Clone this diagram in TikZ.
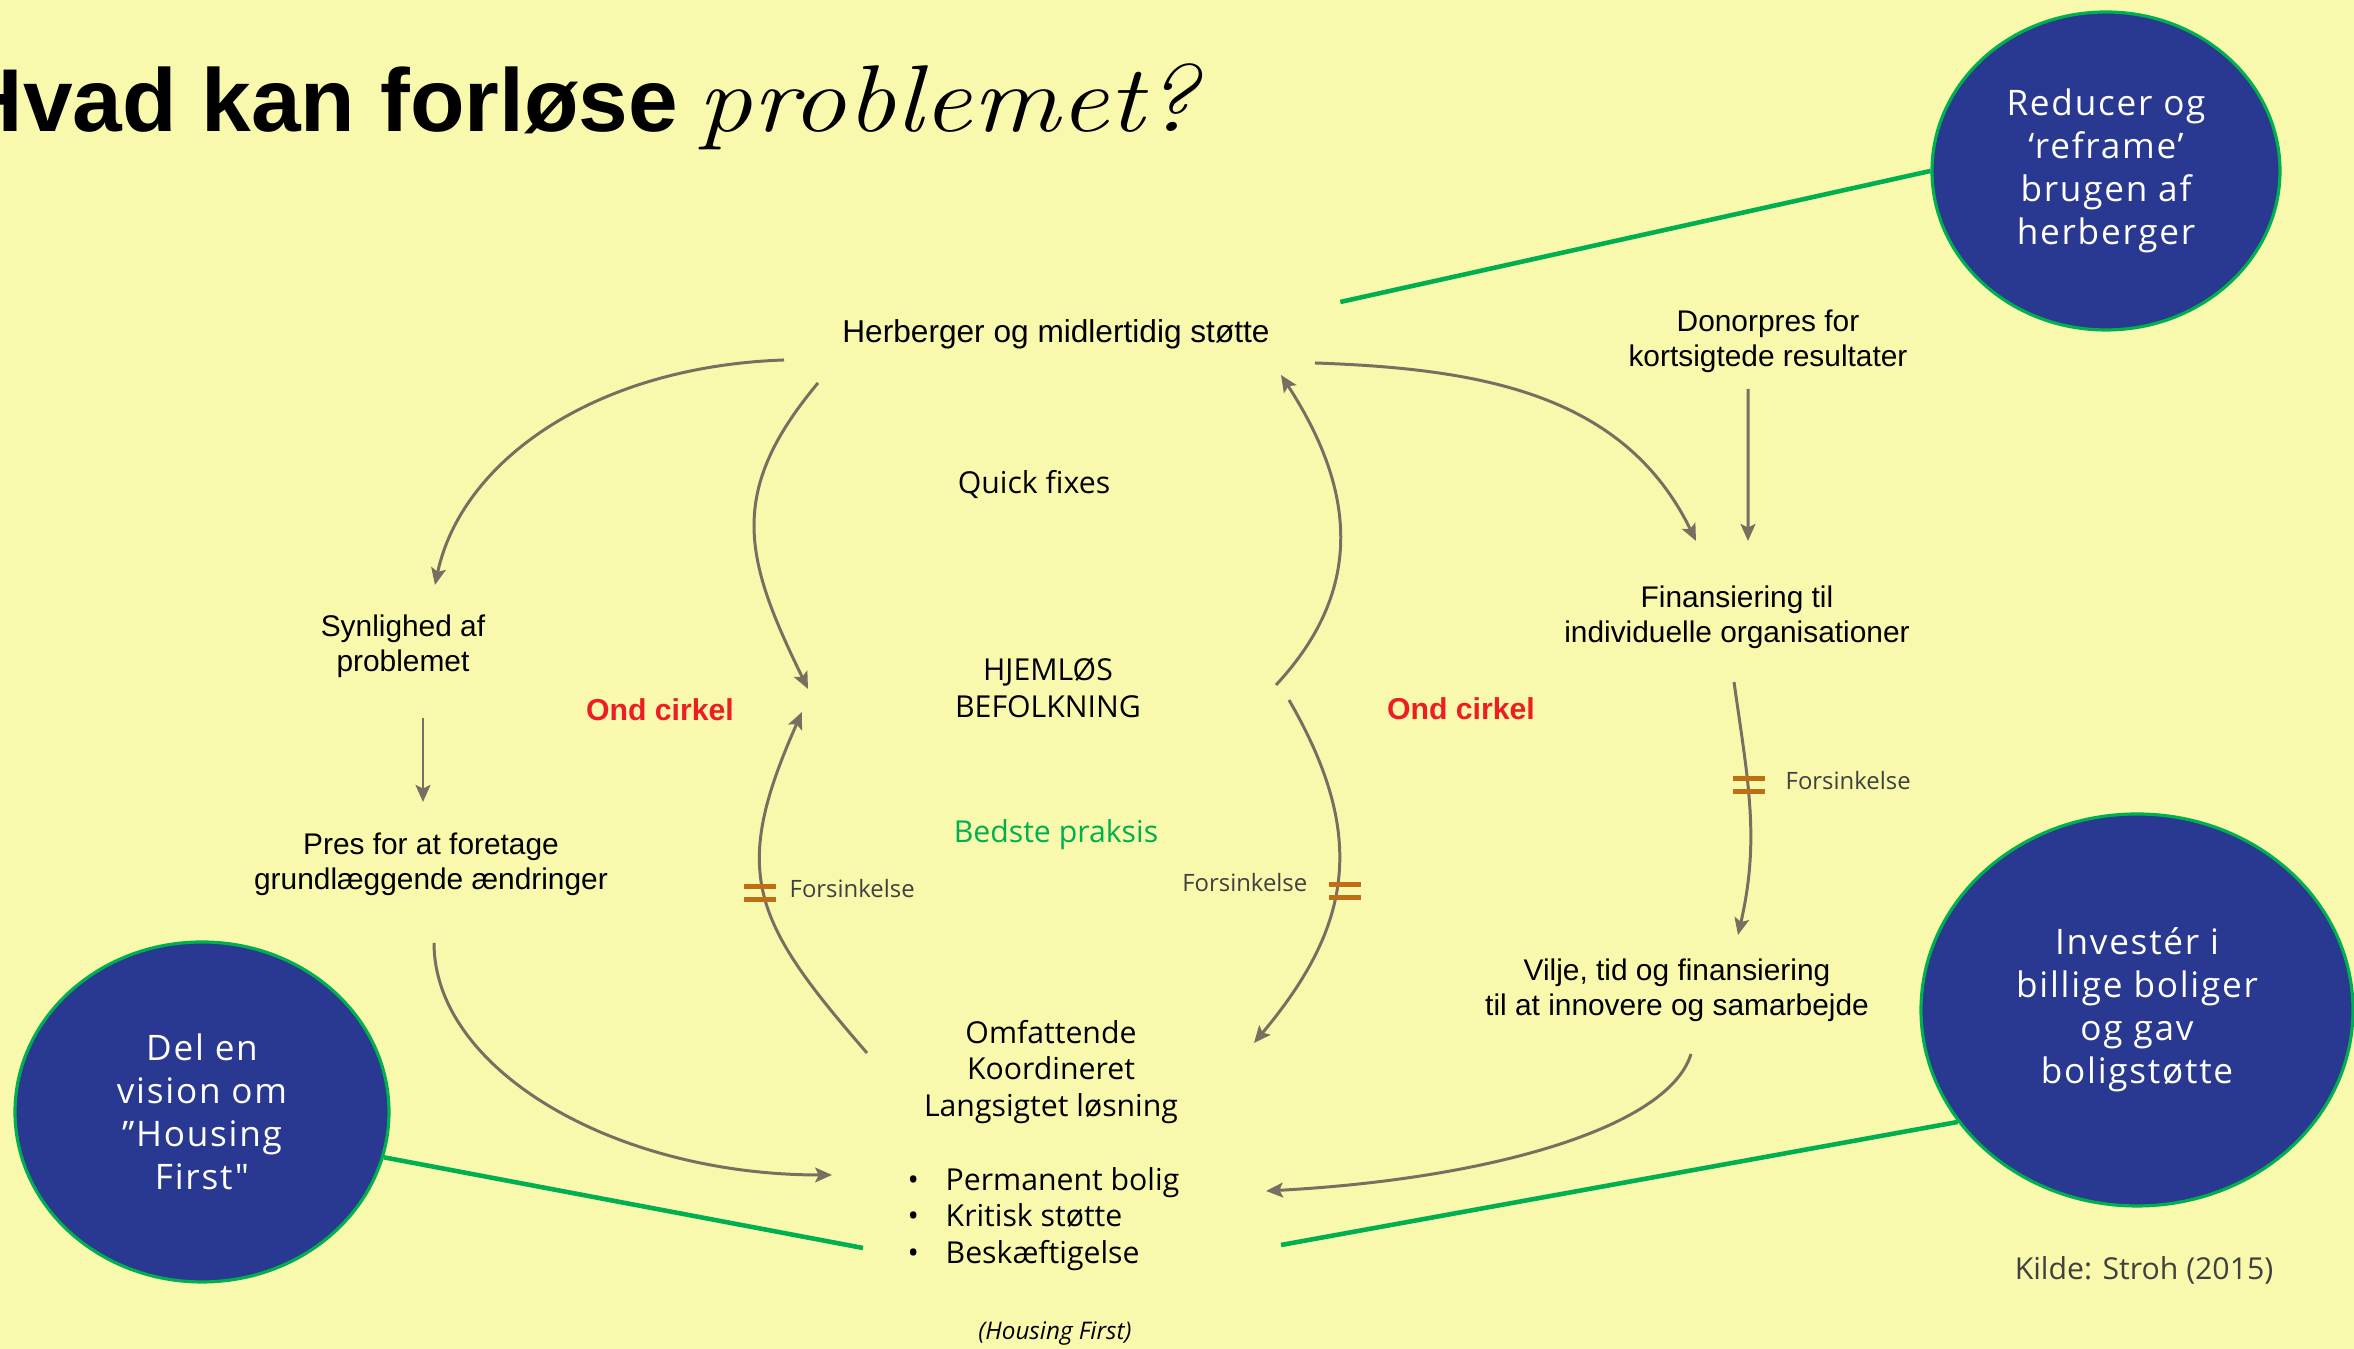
\documentclass[tikz,border=0pt]{standalone}
\usepackage{fontspec}
\usepackage{graphicx}
\usetikzlibrary{arrows.meta,shapes.geometric,positioning}

\newfontfamily\arialfont{Liberation Sans}
\newfontfamily\worksans{Open Sans}
\newfontfamily\worksanswide{Open Sans}[LetterSpace=5]

\definecolor{paper}{RGB}{249,249,173}
\definecolor{loopgray}{RGB}{118,112,96}
\definecolor{navy}{RGB}{41,56,145}
\definecolor{leafgreen}{RGB}{0,176,80}
\definecolor{alarm}{RGB}{236,30,36}
\definecolor{lagorange}{RGB}{192,110,20}
\definecolor{notegray}{RGB}{64,64,64}

% two short bars across a link = delay
\newcommand{\delaymark}[1]{%
  \draw[lagbar] ([shift={(-0.16,0.065)}]#1) -- ++(0.32,0)
    ([shift={(-0.16,-0.065)}]#1) -- ++(0.32,0);}
\newcommand{\bulletmark}{\makebox[0.38cm][l]{\textbullet}}

\begin{document}
\begin{tikzpicture}[
  lbl/.style={font=\arialfont\fontsize{8.5}{10}\selectfont, align=center, inner sep=0pt},
  soft/.style={font=\worksans\fontsize{8.6}{10.3}\selectfont, align=center, inner sep=0pt},
  vicious/.style={font=\arialfont\bfseries\fontsize{8.6}{10}\selectfont, text=alarm, inner sep=0pt},
  lag/.style={font=\worksans\fontsize{6.8}{8}\selectfont, text=notegray, inner sep=0pt},
  sol/.style={ellipse, draw=leafgreen, line width=0.9pt, fill=navy, text=white,
    font=\worksanswide\fontsize{10}{12.2}\selectfont, align=center, inner sep=0pt},
  arr/.style={draw=loopgray, line width=0.85pt, -{Stealth[length=4.8pt,width=4.2pt,inset=1pt]}},
  link/.style={draw=leafgreen, line width=1.3pt},
  lagbar/.style={draw=lagorange, line width=1.5pt},
]
  \fill[paper] (0,0) rectangle (23.54,13.49);
  \useasboundingbox (0,0) rectangle (23.54,13.49);

  % title
  \node[anchor=base west, inner sep=0pt, font=\arialfont\bfseries\fontsize{25.4}{28}\selectfont]
    (ttl) at (-0.42,12.17) {Hvad kan forløse};
  \node[anchor=base west, inner sep=0pt] (ttlit) at (6.97,12.17)
    {\scalebox{1.15}[1]{\fontsize{27}{30}\selectfont\itshape problemet?}};

  % the loop
  \node[lbl, font=\arialfont\fontsize{9}{10}\selectfont] (herb) at (10.56,10.15) {Herberger og midlertidig støtte};
  \node[soft] (quick) at (10.34,8.64) {Quick fixes};
  \node[soft] (hjem) at (10.48,6.61) {HJEMLØS\\BEFOLKNING};
  \node[soft, text=leafgreen] (best) at (10.56,5.14) {Bedste praksis};
  \node[soft] (omf) at (10.51,2.77) {Omfattende\\Koordineret\\Langsigtet løsning};
  \node[soft, anchor=west, align=left] (bul) at (9.07,1.30)
    {\bulletmark Permanent bolig\\\bulletmark Kritisk støtte\\\bulletmark Beskæftigelse};
  \node[soft, font=\worksans\itshape\fontsize{6.9}{8}\selectfont] (hf) at (10.55,0.15) {(Housing First)};

  \node[vicious] (ondL) at (6.60,6.39) {Ond cirkel};
  \node[vicious] (ondR) at (14.61,6.40) {Ond cirkel};

  % left side
  \node[lbl] (syn) at (4.03,7.03) {Synlighed af\\problemet};
  \node[lbl] (pres) at (4.31,4.85) {Pres for at foretage\\grundlæggende ændringer};

  % right side
  \node[lbl] (donor) at (17.68,10.08) {Donorpres for\\kortsigtede resultater};
  \node[lbl] (fin) at (17.37,7.32) {Finansiering til\\individuelle organisationer};
  \node[lbl] (vil) at (16.77,3.59) {Vilje, tid og finansiering\\til at innovere og samarbejde};

  \node[soft, text=notegray] (src) at (21.44,0.79) {Kilde: Stroh (2015)};

  % solutions
  \node[sol, minimum width=3.48cm, minimum height=3.18cm] (reduce) at (21.06,11.78)
    {Reducer og\\‘reframe’\\brugen af\\herberger};
  \node[sol, minimum width=3.74cm, minimum height=3.40cm] (vision) at (2.02,2.37)
    {Del en\\vision om\\”Housing\\First{\addfontfeature{Ligatures=TeXOff}"}};
  \node[sol, minimum width=4.32cm, minimum height=3.92cm] (invest) at (21.37,3.39)
    {Investér i\\billige boliger\\og gav\\boligstøtte};

  \draw[link] (reduce.west) -- ([shift={(0.70,0.32)}]herb.east);
  \draw[link] (vision.-14) -- ([shift={(-0.44,-0.29)}]bul.west);
  \draw[link] (invest.212) -- ([shift={(1.01,-0.26)}]bul.east);

  % arrows
  \draw[arr] ([shift={(-2.72,-0.26)}]herb.center)
    to[out=182,in=78,out looseness=1.18,in looseness=0.77] ([shift={(0.32,0.61)}]syn.center);
  \draw[arr] ([shift={(0.20,-0.72)}]syn.center) -- ([shift={(-0.08,0.62)}]pres.center);
  \draw[arr] ([shift={(0.03,-0.79)}]pres.center)
    to[out=-90,in=180,out looseness=0.7,in looseness=1.22] ([shift={(-0.75,0.44)}]bul.west);

  \draw[arr] ([shift={(-2.38,-0.49)}]herb.center) to[out=230,in=116,looseness=1.2] ([shift={(-2.40,-0.01)}]hjem.center);
  \draw[arr] ([shift={(2.28,0.03)}]hjem.center) to[out=47,in=-57,looseness=1.1] ([shift={(2.25,-0.41)}]herb.center);
  \draw[arr] ([shift={(-1.84,0.19)}]omf.center) to[out=131,in=-114,looseness=1.3] ([shift={(-2.46,-0.24)}]hjem.center);
  \draw[arr] ([shift={(2.41,-0.12)}]hjem.center) to[out=-60,in=50,looseness=1.15] ([shift={(2.03,0.29)}]omf.center);

  \draw[arr] ([shift={(2.59,-0.29)}]herb.center) to[out=-2,in=116] ([shift={(-0.41,0.76)}]fin.center);
  \draw[arr] ([shift={(-0.20,-0.48)}]donor.center) -- ([shift={(0.11,0.76)}]fin.center);
  \draw[arr] ([shift={(-0.03,-0.65)}]fin.center) to[out=-82,in=77] ([shift={(0.61,0.55)}]vil.center);
  \draw[arr] ([shift={(0.14,-0.64)}]vil.center)
    to[out=-107,in=3,out looseness=0.45,in looseness=1.25] ([shift={(0.86,0.28)}]bul.east);

  % delays
  \coordinate (dL) at (7.60,4.56);
  \coordinate (dM) at (13.45,4.58);
  \coordinate (dR) at (17.49,5.64);
  \delaymark{dL}
  \delaymark{dM}
  \delaymark{dR}
  \node[lag, anchor=west] (lagL) at ([shift={(0.29,0.04)}]dL) {Forsinkelse};
  \node[lag, anchor=east] (lagM) at ([shift={(-0.37,0.08)}]dM) {Forsinkelse};
  \node[lag, anchor=west] (lagR) at ([shift={(0.36,0.04)}]dR) {Forsinkelse};
\end{tikzpicture}
\end{document}
